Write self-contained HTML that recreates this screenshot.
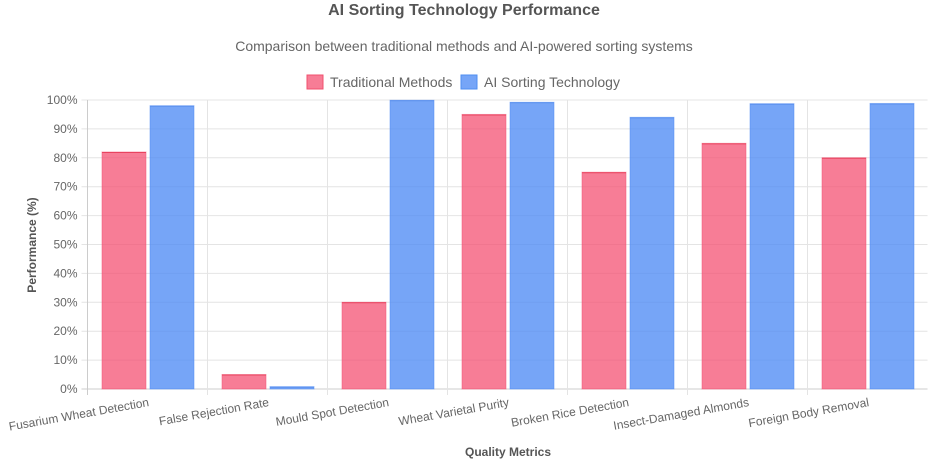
<!DOCTYPE html>
<html><head><meta charset="utf-8"><style>
html,body{margin:0;padding:0;background:#fff;}
svg{display:block;font-family:"Liberation Sans",Arial,sans-serif;}
</style></head><body>
<svg id="chart" width="928" height="464">
<text x="464" y="15" text-anchor="middle" font-size="16" font-weight="bold" fill="#555">AI Sorting Technology Performance</text>
<text x="464" y="51" text-anchor="middle" font-size="14" fill="#666">Comparison between traditional methods and AI-powered sorting systems</text>
<g>
<g><rect x="307" y="75" width="16" height="14" fill="rgba(244,82,115,0.75)" stroke="#f0506e"/><text x="330" y="87" font-size="14" fill="#666">Traditional Methods</text></g>
<g><rect x="461" y="75" width="16" height="14" fill="rgba(80,140,245,0.78)" stroke="#4f8ef0"/><text x="484" y="87" font-size="14" fill="#666">AI Sorting Technology</text></g>
</g>
<g id="grid"></g><g id="bars"></g><g id="labels"></g>
<text transform="translate(36,245) rotate(-90)" text-anchor="middle" font-size="12" font-weight="bold" fill="#555">Performance (%)</text>
<text x="508" y="456" text-anchor="middle" font-size="12" font-weight="bold" fill="#555">Quality Metrics</text>
</svg>
<script>
const categories = ["Fusarium Wheat Detection","False Rejection Rate","Mould Spot Detection","Wheat Varietal Purity","Broken Rice Detection","Insect-Damaged Almonds","Foreign Body Removal"];
const traditional = [82,5,30,95,75,85,80];
const aiSorting = [98,0.8,99.9,99.2,94,98.7,98.8];
const yTicks = [0,10,20,30,40,50,60,70,80,90,100];
const L=87.5,R=927.5,T=100,B=389;
const NS="http://www.w3.org/2000/svg";
const y=v=>B-(v/100)*(B-T);
const cw=(R-L)/categories.length;
const xc=i=>L+cw*(i+0.5);
function mk(tag,attrs,parent,text){const e=document.createElementNS(NS,tag);for(const k in attrs)e.setAttribute(k,attrs[k]);if(text!==undefined)e.textContent=text;parent.appendChild(e);return e;}
const grid=document.getElementById('grid'),bars=document.getElementById('bars'),labels=document.getElementById('labels');
yTicks.forEach(t=>{
  const ln=mk('line',{x1:L-6,x2:R,y1:y(t),y2:y(t),stroke:t===0?'#ccc':'#e4e4e4','stroke-width':1},grid);
  
  
  const tx=mk('text',{x:L-10,y:y(t)+4,'text-anchor':'end','font-size':12,fill:'#666'},grid,t+'%');
  
  
});
for(let i=0;i<categories.length;i++){
  const x=L+cw*i;
  const ln=mk('line',{x1:x,x2:x,y1:T,y2:B+6,stroke:i===0?'#ccc':'#e4e4e4','stroke-width':1},grid);
  
  
}
categories.forEach((c,i)=>{
  const cx=xc(i),bw=44;
  const r=mk('rect',{x:cx-bw-1.5,y:y(traditional[i]),width:bw,height:B-y(traditional[i]),fill:'rgba(244,82,115,0.75)',stroke:'rgba(244,82,115,0.5)','stroke-width':1},bars);
  
  
  const rt=mk('line',{x1:cx-bw-1.5,x2:cx-1.5,y1:y(traditional[i])+0.5,y2:y(traditional[i])+0.5,stroke:'#e8435f','stroke-width':1},bars);
  
  
  const a=mk('rect',{x:cx+2.5,y:y(aiSorting[i]),width:bw,height:B-y(aiSorting[i]),fill:'rgba(80,140,245,0.78)',stroke:'rgba(80,140,245,0.5)','stroke-width':1},bars);
  
  
  const at=mk('line',{x1:cx+2.5,x2:cx+2.5+bw,y1:y(aiSorting[i])+0.5,y2:y(aiSorting[i])+0.5,stroke:'#5a90ee','stroke-width':1},bars);
  
  
  const lb=mk('text',{x:cx+2,y:B+17,'text-anchor':'end','font-size':12,fill:'#666',transform:`rotate(-10 ${cx+2} ${B+17})`},labels,c);
  
  
});
</script>
</body></html>
